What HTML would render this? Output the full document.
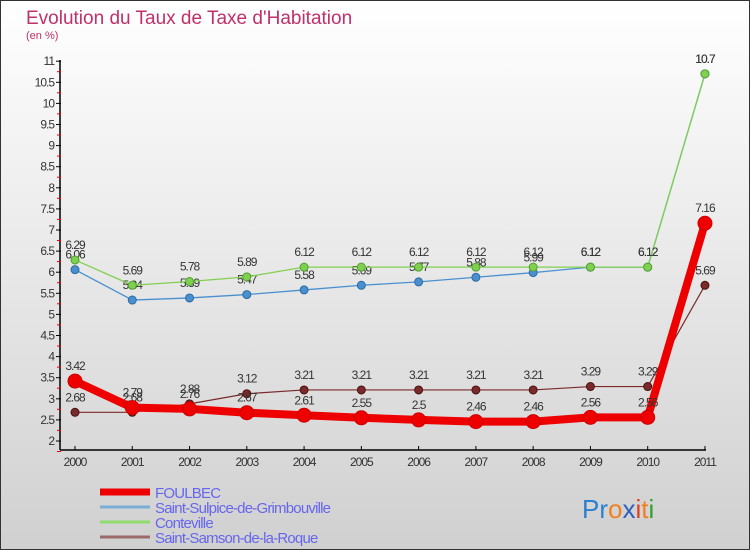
<!DOCTYPE html>
<html><head><meta charset="utf-8"><style>
body{margin:0;}
#c{width:750px;height:550px;position:relative;box-sizing:border-box;border:1px solid #333;background:linear-gradient(#fff,#d0d0d0);font-family:"Liberation Sans",sans-serif;overflow:hidden}
svg text{font-family:"Liberation Sans",sans-serif}
</style></head><body>
<div id="c">
<svg id="s" width="750" height="550" style="position:absolute;left:-1px;top:-1px">
<text x="26" y="24" font-size="19" fill="#c0306a">Evolution du Taux de Taxe d'Habitation</text>
<text x="26" y="39" font-size="11" fill="#c0306a">(en %)</text>
</svg>
</div>
<script>
const years=["2000","2001","2002","2003","2004","2005","2006","2007","2008","2009","2010","2011"];
const foulbec=[3.42,2.79,2.76,2.67,2.61,2.55,2.5,2.46,2.46,2.56,2.56,7.16];
const sulpice=[6.06,5.34,5.39,5.47,5.58,5.69,5.77,5.88,5.99,6.12,6.12,10.7];
const conteville=[6.29,5.69,5.78,5.89,6.12,6.12,6.12,6.12,6.12,6.12,6.12,10.7];
const samson=[2.68,2.68,2.88,3.12,3.21,3.21,3.21,3.21,3.21,3.29,3.29,5.69];
const yTicks=[2,2.5,3,3.5,4,4.5,5,5.5,6,6.5,7,7.5,8,8.5,9,9.5,10,10.5,11];
const seriesNames=["FOULBEC","Saint-Sulpice-de-Grimbouville","Conteville","Saint-Samson-de-la-Roque"];
const NS="http://www.w3.org/2000/svg";
const svg=document.getElementById('s');
const X=i=>75+i*57.27;
const Y=v=>441-(v-2)*42.2;
function el(t,a,p){const e=document.createElementNS(NS,t);for(const k in a)e.setAttribute(k,a[k]);(p||svg).appendChild(e);return e;}
let ax=el('line',{x1:60,y1:60,x2:60,y2:450,stroke:'#000','stroke-width':1.5});


let axx=el('line',{x1:60,y1:450,x2:706,y2:450,stroke:'#000','stroke-width':1.5});


yTicks.forEach(v=>{
  el('line',{x1:56,x2:61,y1:Y(v),y2:Y(v),stroke:'#000'});
  el('line',{x1:57,x2:61,y1:Y(v)+10.5,y2:Y(v)+10.5,stroke:'#e00'});
  const t=el('text',{x:54,y:Y(v)+4,'font-size':12,'text-anchor':'end',fill:'#333','letter-spacing':-1});
  t.textContent=String(v);
  
  
});
years.forEach((y,i)=>{
  el('line',{x1:X(i),x2:X(i),y1:446,y2:450,stroke:'#000'});
  const t=el('text',{x:X(i),y:466,'font-size':12,'text-anchor':'middle',fill:'#333','letter-spacing':-1});
  t.textContent=y;
  
  
});
function series(d,col,w,r,name,dark){
  const g=el('g',{});
  
  
  el('polyline',{points:d.map((v,i)=>X(i)+','+Y(v)).join(' '),fill:'none',stroke:col,'stroke-width':w,'stroke-linejoin':'round'},g);
  d.forEach((v,i)=>{
    const c=el('circle',{cx:X(i),cy:Y(v),r:r,fill:col,stroke:dark,'stroke-width':1},g);
    
    
    const t=el('text',{x:X(i),y:Y(v)-11,'font-size':12,'text-anchor':'middle',fill:'#333','letter-spacing':-1},g);
    t.textContent=String(v);
    
    
  });
}
series(sulpice,'#4a90d0',1.3,4,'saint-sulpice-series','#2a6aa0');
series(conteville,'#80d050',1.3,4,'conteville-series','#50a030');
series(samson,'#7a2a2a',1.2,4,'saint-samson-series','#4a1010');
series(foulbec,'#ee0000',8,7,'foulbec-series','#cc0000');
const lcols=['#ee0000','#7aaed8','#90dc70','#9a6a6a'];
seriesNames.forEach((n,i)=>{
  const y=492+i*15;
  el('line',{x1:100,x2:150,y1:y,y2:y,stroke:lcols[i],'stroke-width':i==0?7:3});
  const t=el('text',{x:155,y:y+6,'font-size':15,fill:'#6666ee','letter-spacing':-0.8});
  t.textContent=n;
  
  
});
const logo=el('text',{x:582,y:518,'font-size':26});


[['P','#2a80d0'],['r','#2a80d0'],['o','#f08020'],['x','#2a60c0'],['i','#e04020'],['t','#f08020'],['i','#30a030']].forEach(([ch,c])=>{const s=el('tspan',{fill:c},logo);s.textContent=ch;});
</script>
</body></html>
